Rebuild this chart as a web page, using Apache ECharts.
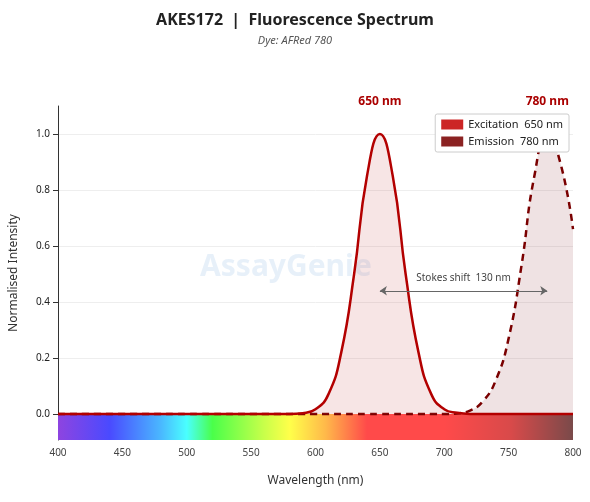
<!DOCTYPE html><html><head><meta charset="utf-8">
<script src="https://cdn.jsdelivr.net/npm/echarts@6/dist/echarts.min.js"></script>
<style>body{margin:0}#c{width:590px;height:502px}</style></head><body><div id="c"></div>
<script>
const wavelengths=[400,410,420,430,440,450,460,470,480,490,500,510,520,530,540,550,560,570,580,590,600,610,620,630,640,650,660,670,680,690,700,710,720,730,740,750,760,770,780,790,800];
const excitation=[0,0,0,0,0,0,0,0,0,0,0,0,0,0,0,0,0,0,0,0.003,0.017,0.07,0.22,0.5,0.85,1.0,0.85,0.5,0.22,0.07,0.017,0.004,0,0,0,0,0,0,0,0,0];
const emission=[0,0,0,0,0,0,0,0,0,0,0,0,0,0,0,0,0,0,0,0,0,0,0,0,0,0,0,0,0,0,0,0.002,0.012,0.045,0.12,0.27,0.53,0.85,1.0,0.9,0.66];
const yTicks=[0,0.2,0.4,0.6,0.8,1.0];
const spectrumColors=['#8e44e0','#4a4aff','#4ab8ff','#4affff','#4aff4a','#c8ff4a','#ffff4a','#ffb84a','#ff4a4a','#ff4a4a','#d84a4a','#7a4a4a'];
const spectrumStops=[0,0.1,0.2,0.25,0.3,0.4,0.45,0.52,0.6,0.75,0.88,1];
const ch=echarts.init(document.getElementById('c'));
const pair=(a)=>wavelengths.map((w,i)=>[w,a[i]]);
ch.setOption({
 animation:false,
 title:{text:'AKES172  |  Fluorescence Spectrum',subtext:'Dye: AFRed 780',left:'center',top:7,itemGap:7,
  textStyle:{fontFamily:'Noto Sans',fontSize:16,fontWeight:'bold',color:'#222'},
  subtextStyle:{fontFamily:'Noto Sans',fontSize:11,fontStyle:'italic',color:'#555'}},
 legend:{right:21,top:114,orient:'vertical',itemWidth:22,itemHeight:10,itemGap:6,backgroundColor:'#fff',borderColor:'#ccc',borderWidth:1,borderRadius:2,padding:[5,6],
  textStyle:{fontFamily:'Noto Sans',fontSize:11,color:'#222'},
  data:[{name:'Excitation  650 nm',icon:'rect',itemStyle:{color:'#cc2525'}},{name:'Emission  780 nm',icon:'rect',itemStyle:{color:'#8b2222'}}]},
 graphic:[{type:'text',left:200,top:252,style:{text:'AssayGenie',font:'bold 30px Noto Sans',fill:'rgba(120,170,220,0.18)'}}],
 grid:{left:55,right:17,top:106,bottom:62},
 xAxis:{type:'value',min:400,max:800,interval:50,name:'Wavelength (nm)',nameLocation:'middle',nameGap:35,
  nameTextStyle:{fontFamily:'Noto Sans',fontSize:12,color:'#333'},
  axisLine:{show:false},axisTick:{show:false},splitLine:{show:false},
  axisLabel:{fontFamily:'Noto Sans',fontSize:10,color:'#444',margin:8}},
 yAxis:{type:'value',min:-0.093,max:1.1,name:'Normalised Intensity',nameLocation:'middle',nameGap:38,
  nameTextStyle:{fontFamily:'Noto Sans',fontSize:12,color:'#333'},
  axisLine:{show:true,lineStyle:{color:'#333'}},
  axisTick:{show:true,customValues:yTicks,lineStyle:{color:'#333'}},
  axisLabel:{customValues:yTicks,formatter:v=>v.toFixed(1),fontFamily:'Noto Sans',fontSize:10,color:'#222'},
  splitLine:{show:true,lineStyle:{color:'#eee'}}},
 series:[
  {name:'Excitation  650 nm',type:'line',smooth:0.5,symbol:'none',data:pair(excitation),z:3,
   lineStyle:{color:'#b30000',width:2.5},itemStyle:{color:'#cc2525'},areaStyle:{color:'rgba(200,70,70,0.2)'},
   markArea:{silent:true,itemStyle:{color:new echarts.graphic.LinearGradient(0,0,1,0,spectrumStops.map((o,i)=>({offset:o,color:spectrumColors[i]})))},
    data:[[{coord:[400,-0.093]},{coord:[800,0]}]]},
   markPoint:{symbolSize:0,data:[{coord:[650,1.0]},{coord:[780,1.0]}],
    label:{show:true,position:'top',distance:26,formatter:p=>p.data.coord[0]+' nm',fontFamily:'Noto Sans',fontSize:12,fontWeight:'bold',color:'#aa0000'}},
   markLine:{silent:true,symbol:['arrow','arrow'],symbolSize:7,lineStyle:{color:'#666',width:1.2,type:'solid'},
    label:{show:true,position:'middle',formatter:'Stokes shift  130 nm',fontFamily:'Noto Sans',fontSize:10,color:'#444',distance:8},
    data:[[{coord:[650,0.44]},{coord:[780,0.44]}]]}},
  {name:'Emission  780 nm',type:'line',smooth:0.5,symbol:'none',data:pair(emission),z:2,
   lineStyle:{color:'#7a0000',width:2.5,type:[7,5]},itemStyle:{color:'#8b2222'},areaStyle:{color:'rgba(140,50,60,0.2)'}}
 ]});
</script></body></html>
